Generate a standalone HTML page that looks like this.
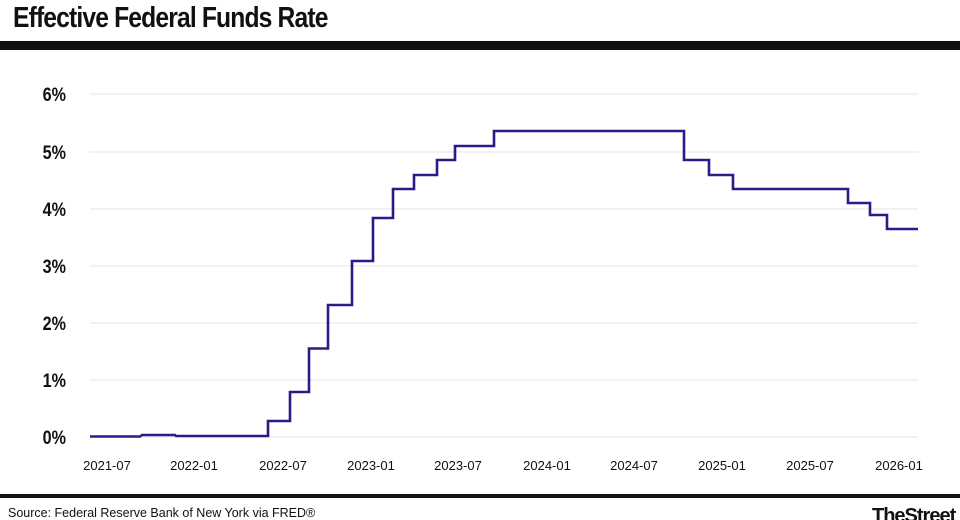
<!DOCTYPE html>
<html><head><style>
body{margin:0;background:#fff;width:960px;height:520px;overflow:hidden;position:relative;font-family:"Liberation Sans",sans-serif}
.t{position:absolute;left:13px;top:2px;font-size:29px;font-weight:bold;letter-spacing:-1px;transform:scaleX(.85);transform-origin:left top;color:#111}
</style></head><body>
<div class="t">Effective Federal Funds Rate</div>
<svg width="960" height="520" style="position:absolute;left:0;top:0">
<rect x="0" y="41" width="960" height="9" fill="#111"/>
<rect x="0" y="494" width="960" height="4" fill="#111"/>
<g stroke="#e6e6e6" stroke-width="1">
<line x1="90" x2="918" y1="94" y2="94"/><line x1="90" x2="918" y1="152" y2="152"/>
<line x1="90" x2="918" y1="209" y2="209"/><line x1="90" x2="918" y1="266" y2="266"/>
<line x1="90" x2="918" y1="323" y2="323"/><line x1="90" x2="918" y1="380" y2="380"/>
<line x1="90" x2="918" y1="437" y2="437"/>
</g>
<g font-family="Liberation Sans,sans-serif" font-size="19" font-weight="bold" fill="#111" text-anchor="end">
<text x="66" y="101" transform="translate(66 0) scale(.85 1) translate(-66 0)">6%</text>
<text x="66" y="159" transform="translate(66 0) scale(.85 1) translate(-66 0)">5%</text>
<text x="66" y="216" transform="translate(66 0) scale(.85 1) translate(-66 0)">4%</text>
<text x="66" y="273" transform="translate(66 0) scale(.85 1) translate(-66 0)">3%</text>
<text x="66" y="330" transform="translate(66 0) scale(.85 1) translate(-66 0)">2%</text>
<text x="66" y="387" transform="translate(66 0) scale(.85 1) translate(-66 0)">1%</text>
<text x="66" y="444" transform="translate(66 0) scale(.85 1) translate(-66 0)">0%</text>
</g>
<g font-family="Liberation Sans,sans-serif" font-size="13" fill="#111" text-anchor="middle">
<text x="107" y="470">2021-07</text><text x="194" y="470">2022-01</text>
<text x="283" y="470">2022-07</text><text x="371" y="470">2023-01</text>
<text x="458" y="470">2023-07</text><text x="547" y="470">2024-01</text>
<text x="634" y="470">2024-07</text><text x="722" y="470">2025-01</text>
<text x="810" y="470">2025-07</text><text x="899" y="470">2026-01</text>
</g>
<polyline fill="none" stroke="#2e1a87" stroke-width="2.6" points="90,436.5 140,436.5 142,435 175,435 176,436 268,436 268,421 290,421 290,392 309,392 309,348.5 328,348.5 328,305 352,305 352,261 373,261 373,218 393,218 393,189 414,189 414,175 437,175 437,160 455,160 455,146 494,146 494,131 684,131 684,160 709,160 709,175 733,175 733,189 848,189 848,203 870,203 870,215 887,215 887,229 918,229"/>
<text x="8" y="517" font-family="Liberation Sans,sans-serif" font-size="12.5" fill="#111">Source: Federal Reserve Bank of New York via FRED®</text>
<text x="872" y="522" font-family="Liberation Sans,sans-serif" font-size="20" font-weight="bold" fill="#111" letter-spacing="-1">TheStreet</text>
</svg>
</body></html>
